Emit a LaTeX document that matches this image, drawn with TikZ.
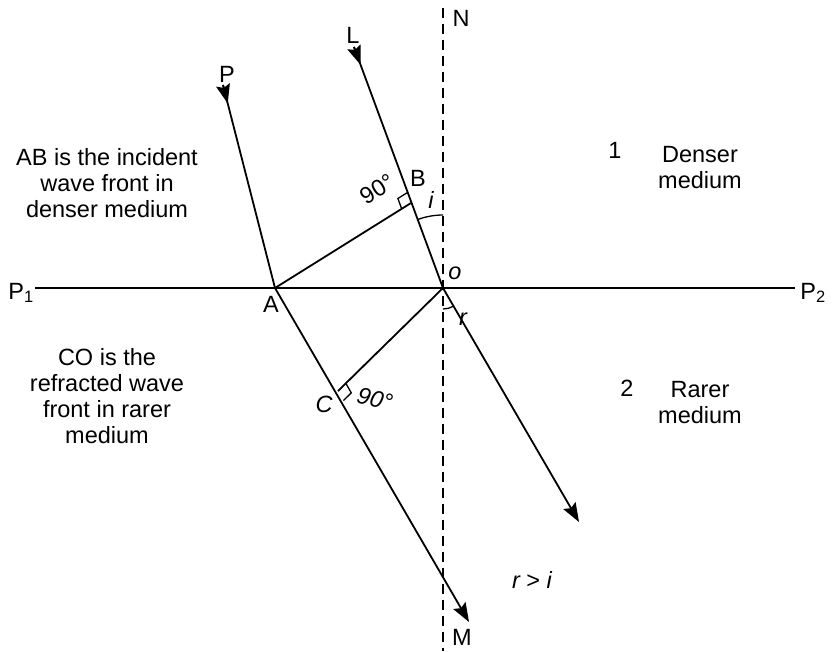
\documentclass[tikz,border=0pt]{standalone}
\usepackage{fontspec}
\setmainfont{Liberation Sans}
\usetikzlibrary{calc,arrows.meta,angles}
\tikzset{
  lbl/.style={inner sep=0pt, font=\fontsize{23.5}{26}\selectfont},
  txt/.style={lbl, align=center},
  ray/.style={line width=1.8pt},
  tip/.style={-{Stealth[length=19pt,width=14pt,inset=3pt]}},
  normalline/.style={line width=1.8pt, dash pattern=on 10pt off 6pt},
}
\begin{document}
\begin{tikzpicture}[x=1pt,y=-1pt]
\useasboundingbox (0,0) rectangle (832,651);
% key points
\coordinate (O) at (443,288);
\coordinate (A) at (275,288);
\coordinate (B) at (411,203);
\coordinate (C) at (338,391);
\coordinate (Lst) at (354,47);
\coordinate (Pst) at (223,85);
\coordinate (Mend) at (469,622);
\coordinate (Rend) at (579,522);
\coordinate (Ntop) at (443,8);
\coordinate (Nbot) at (443,651);
\coordinate (P1e) at (35,288);
\coordinate (P2e) at (795,288);
% normal
\draw[normalline] (Ntop) -- (Nbot);
% interface
\draw[ray] (P1e) -- (P2e);
% incident rays
\draw[ray] (Lst) -- (O);
\draw[ray, tip] (Lst) -- ($(Lst)!19pt!(O)$);
\draw[ray] (Pst) -- (A);
\draw[ray, tip] (Pst) -- ($(Pst)!19pt!(A)$);
% wave fronts
\draw[ray] (A) -- (B);
\draw[ray] (O) -- (C);
% refracted rays
\draw[ray, tip] (A) -- (Mend);
\draw[ray, tip] (O) -- (Rend);
% right angle marks
\coordinate (b1) at ($(B)!11pt!(Lst)$);
\coordinate (b2) at ($(B)!11pt!(A)$);
\draw[line width=1.3pt] (b1) -- ($(b1)+(b2)-(B)$) -- (b2);
\coordinate (c1) at ($(C)!11pt!(O)$);
\coordinate (c2) at ($(C)!11pt!(Mend)$);
\draw[line width=1.3pt] (c1) -- ($(c1)+(c2)-(C)$) -- (c2);
% angles
\pic[draw, line width=1.3pt, angle radius=73pt] {angle = Ntop--O--Lst};
\pic[draw, line width=1.3pt, angle radius=21pt] {angle = Nbot--O--Rend};
% labels
\node[lbl] (tN) at (461,18) {N};
\node[lbl] (tM) at (462,637) {M};
\node[lbl] (tL) at (353,35) {L};
\node[lbl] (tP) at (227,74) {P};
\node[lbl] (tB) at (418,178) {B};
\node[lbl] (tA) at (271,304) {A};
\node[lbl] (tO) at (455,273) {\itshape o};
\node[lbl] (tC) at (324,404) {\itshape C};
\node[lbl] (ti) at (431,200) {\itshape i};
\node[lbl] (tr) at (463,319) {\itshape r};
\node[lbl, rotate=32] (t90b) at (377,189) {90°};
\node[lbl, rotate=-15] (t90c) at (375,399) {\itshape 90°};
\node[lbl] (tP1) at (21,293) {P\textsubscript{1}};
\node[lbl] (tP2) at (813,293) {P\textsubscript{2}};
\node[lbl] (trgi) at (532,580) {\itshape r \upshape > \itshape i};
\node[lbl] (t1) at (615,150) {1};
\node[lbl] (t2) at (627,388) {2};
\node[txt] (tden) at (700,168) {Denser\\medium};
\node[txt] (trar) at (700,403) {Rarer\\medium};
\node[txt] (tAB) at (107,183) {AB is the incident\\wave front in\\denser medium};
\node[txt] (tCO) at (107,396) {CO is the\\refracted wave\\front in rarer\\medium};
\end{tikzpicture}
\end{document}
